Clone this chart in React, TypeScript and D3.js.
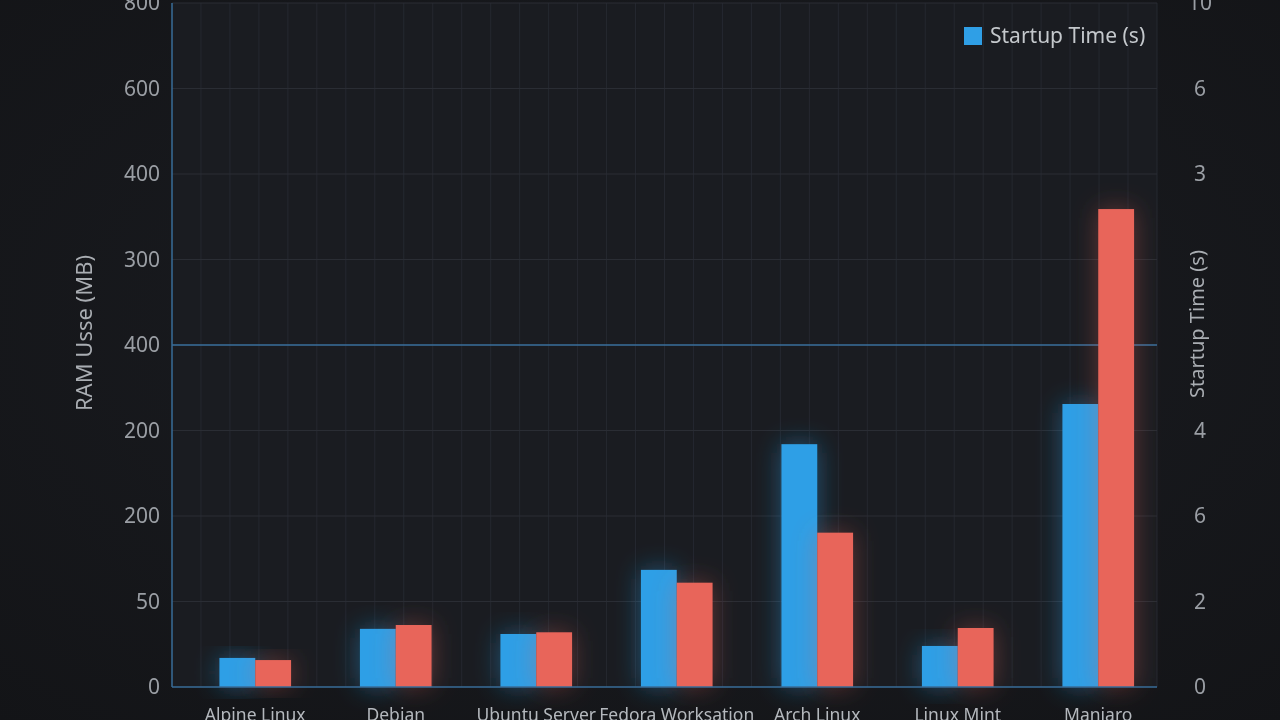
import React from "react";
import * as d3 from "d3";

const categories = ["Alpine Linux", "Debian", "Ubuntu Server", "Fedora Worksation", "Arch Linux", "Linux Mint", "Manjaro"];
const startupTime = [34, 68, 62, 137, 284, 48, 331];
const ramUsage = [31.5, 72.5, 64, 122, 180.5, 69, 559];
const tickValues = [0, 100, 200, 300, 400, 500, 600, 700, 800];
const leftTickLabels = ["0", "50", "200", "200", "400", "300", "400", "600", "800"];
const rightTickLabels = ["0", "2", "6", "4", "", "", "3", "6", "10"];
const highlightTick = 400;
const legendLabel = "Startup Time (s)";
const leftTitle = "RAM Usse (MB)";
const rightTitle = "Startup Time (s)";

const W = 1280;
const H = 720;
const plotLeft = 172;
const plotRight = 1157;
const plotTop = 3;
const plotBottom = 687;
const BLUE = "#2f9fe6";
const RED = "#e8655a";
const FONT = "'Noto Sans', 'Open Sans', sans-serif";

export default function App() {
  const y = d3.scaleLinear().domain([0, 800]).range([plotBottom, plotTop]);
  const x0 = d3.scaleBand<string>().domain(categories).range([185, 1168.5]).paddingInner(0.49).paddingOuter(0.245);
  const x1 = d3.scaleBand<string>().domain(["a", "b"]).range([0, x0.bandwidth()]).padding(0);
  const vGrid = d3.scaleLinear().domain([0, 34]).range([plotLeft, plotRight]);
  const vLines = d3.range(1, 35);

  return (
    <svg width={W} height={H} style={{ position: "fixed", left: 0, top: 0, display: "block" }} fontFamily={FONT}>
      <defs>
        <filter id="glowBlue" x="-100%" y="-40%" width="300%" height="180%">
          <feGaussianBlur in="SourceGraphic" stdDeviation="13" result="b" />
          <feComponentTransfer in="b" result="b2"><feFuncA type="linear" slope="0.45" /></feComponentTransfer>
          <feMerge><feMergeNode in="b2" /><feMergeNode in="SourceGraphic" /></feMerge>
        </filter>
        <filter id="glowRed" x="-100%" y="-40%" width="300%" height="180%">
          <feGaussianBlur in="SourceGraphic" stdDeviation="13" result="b" />
          <feComponentTransfer in="b" result="b2"><feFuncA type="linear" slope="0.35" /></feComponentTransfer>
          <feMerge><feMergeNode in="b2" /><feMergeNode in="SourceGraphic" /></feMerge>
        </filter>
        <radialGradient id="bg" cx="50%" cy="45%" r="75%">
          <stop offset="0%" stopColor="#1b1d22" />
          <stop offset="100%" stopColor="#131417" />
        </radialGradient>
      </defs>
      <rect x={0} y={0} width={W} height={H} fill="url(#bg)" />
      <rect x={plotLeft} y={plotTop} width={plotRight - plotLeft} height={plotBottom - plotTop} fill="#1a1c21" />

      {vLines.map((i) => (
        <line key={"v" + i} x1={vGrid(i)} x2={vGrid(i)} y1={plotTop} y2={plotBottom} stroke="#252830" strokeWidth={1} />
      ))}
      {tickValues.map((t) =>
        t === 0 || t === highlightTick ? null : (
          <line key={"h" + t} x1={plotLeft} x2={plotRight} y1={y(t)} y2={y(t)} stroke="#2a2d34" strokeWidth={1} />
        )
      )}
      <line x1={plotLeft} x2={plotRight} y1={y(highlightTick)} y2={y(highlightTick)} stroke="#3a6f9c" strokeWidth={1.5} />

      {categories.map((c, i) => (
        <g key={c} transform={`translate(${x0(c)},0)`}>
          <rect x={x1("a")} y={y(startupTime[i])} width={x1.bandwidth()} height={y(0) - y(startupTime[i])} fill={BLUE} filter="url(#glowBlue)" />
          <rect x={x1("b")} y={y(ramUsage[i])} width={x1.bandwidth()} height={y(0) - y(ramUsage[i])} fill={RED} filter="url(#glowRed)" />
        </g>
      ))}

      <line x1={plotLeft} x2={plotLeft} y1={plotTop} y2={plotBottom} stroke="#386c98" strokeWidth={1.5} />
      <line x1={plotLeft} x2={plotRight} y1={plotBottom} y2={plotBottom} stroke="#386c98" strokeWidth={1.5} />

      {tickValues.map((t, i) => (
        <text key={"l" + t} x={160} y={y(t)} dy="0.35em" textAnchor="end" fontSize={21} fill="#9a9ea4">
          {leftTickLabels[i]}
        </text>
      ))}
      {tickValues.map((t, i) => (
        <text key={"r" + t} x={1200} y={y(t)} dy="0.35em" textAnchor="middle" fontSize={21} fill="#9a9ea4">
          {rightTickLabels[i]}
        </text>
      ))}

      {categories.map((c) => (
        <text key={"x" + c} x={(x0(c) as number) + x0.bandwidth() / 2} y={721} textAnchor="middle" fontSize={17.5} fill="#b4b8bd">
          {c}
        </text>
      ))}

      <text transform={`translate(92,333) rotate(-90)`} textAnchor="middle" fontSize={22} fill="#a9adb2">{leftTitle}</text>
      <text transform={`translate(1204,324) rotate(-90)`} textAnchor="middle" fontSize={20} fill="#a9adb2">{rightTitle}</text>

      <rect x={964} y={27} width={18} height={18} fill={BLUE} />
      <text x={990} y={43} fontSize={21} fill="#c4c8cc">{legendLabel}</text>
    </svg>
  );
}
